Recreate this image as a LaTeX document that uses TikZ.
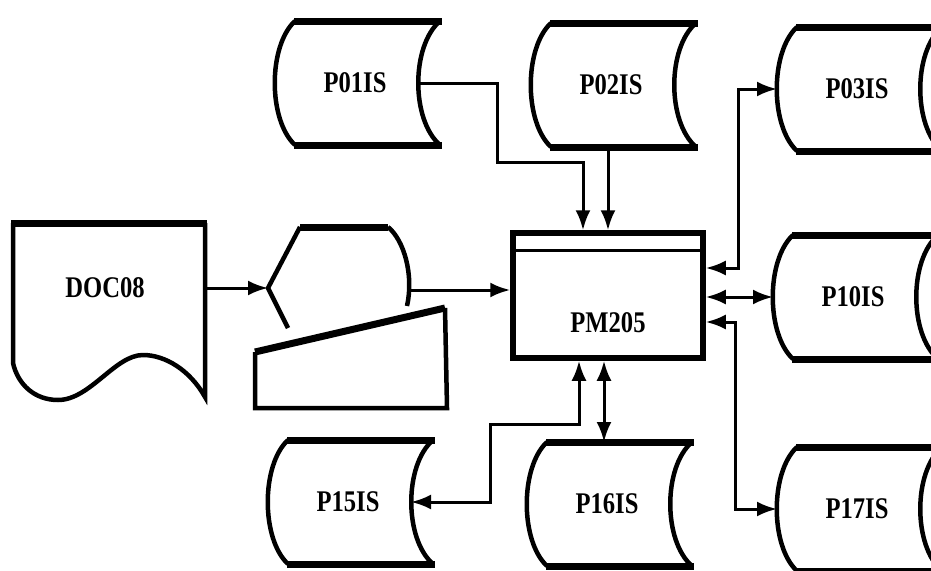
\documentclass[tikz,border=0pt]{standalone}
\usepackage{fontspec}
\newfontfamily\dotfont{Liberation Serif}[FakeStretch=0.82]
\usetikzlibrary{arrows.meta}

\tikzset{
  flow/.style={line width=3pt,-{Latex[length=20pt,width=15pt]}},
  both/.style={line width=3pt,{Latex[length=20pt,width=15pt]}-{Latex[length=20pt,width=15pt]}},
  rim/.style={line width=7pt},
  side/.style={line width=4.5pt},
  filetext/.style={font=\dotfont\bfseries\fontsize{30}{30}\selectfont}
}

% stored data symbol: name, left x, top y, label
\newcommand{\storefile}[4]{%
  \draw[side] (#2+145,#3) .. controls (#2+116,#3+25) and (#2+116,#3+99) .. (#2+145,#3+124);
  \draw[side] (#2,#3) .. controls (#2-27,#3+25) and (#2-27,#3+99) .. (#2,#3+124);
  \draw[rim] (#2-1,#3) -- (#2+147,#3) (#2-1,#3+124) -- (#2+147,#3+124);
  \node[filetext] (#1) at (#2+60,#3+62) {#4};
  \coordinate (#1-w) at (#2-20,#3+62);
  \coordinate (#1-e) at (#2+123,#3+62);
  \coordinate (#1-n) at (#2+57,#3);
  \coordinate (#1-s) at (#2+57,#3+124);
}

\begin{document}
\begin{tikzpicture}[x=1pt,y=-1pt]
\useasboundingbox (0,0) rectangle (931,570);

% Files
\storefile{P01IS}{295}{21}{P01IS}
\storefile{P02IS}{551}{23}{P02IS}
\storefile{P03IS}{797}{27}{P03IS}
\storefile{P10IS}{793}{235}{P10IS}
\storefile{P15IS}{288}{440}{P15IS}
\storefile{P16IS}{547}{442}{P16IS}
\storefile{P17IS}{797}{447}{P17IS}

% Document
\draw[rim] (11,223) -- (207,223);
\draw[side] (13,223) -- (13,363) .. controls (18,385) and (35,400) .. (58,400)
  .. controls (90,400) and (115,355) .. (143,355)
  .. controls (165,355) and (190,370) .. (205,397) -- (205,223);
\node[filetext] (DOC08) at (105,288) {DOC08};
\coordinate (DOC08-e) at (205,288);

% Terminal: display and keyboard
\draw[side] (407,306) .. controls (414,275) and (404,240) .. (388,227);
\draw[rim] (388,227) -- (300,227);
\draw[side] (300,227) -- (268,288) -- (288,328);
\coordinate (disp-w) at (268,288);
\coordinate (disp-e) at (409,290);
\draw[side] (445,308) -- (447,408) -- (255,408) -- (255,352);
\draw[rim] (255,352) -- (445,308);

% Program
\node[draw,line width=5.5pt,minimum width=190pt,minimum height=125pt,
  label={[filetext,yshift=-27pt]center:PM205}] (PM205) at (608,295.5) {};
\draw[line width=3pt] ([yshift=-20pt]PM205.north west) -- ([yshift=-20pt]PM205.north east);

% Connectors
\draw[flow] (DOC08-e) -- (disp-w);
\draw[flow] (disp-e) -- (PM205.west |- disp-e);
\draw[flow] (P01IS-e) -| (497,162) -| (PM205.north -| 583,0);
\draw[flow] (P02IS-s) -- (PM205.north);
\draw[both] (PM205.east |- 0,268) -- (738,268) |- (P03IS-w);
\draw[both] (PM205.east |- P10IS-w) -- (P10IS-w);
\draw[both] (PM205.east |- 0,322) -- (735,322) |- (P17IS-w);
\draw[both] (PM205.south -| 579,0) -- (579,424) -- (490,424) |- (P15IS-e);
\draw[both] (PM205.south -| P16IS-n) -- (P16IS-n);

\end{tikzpicture}
\end{document}
